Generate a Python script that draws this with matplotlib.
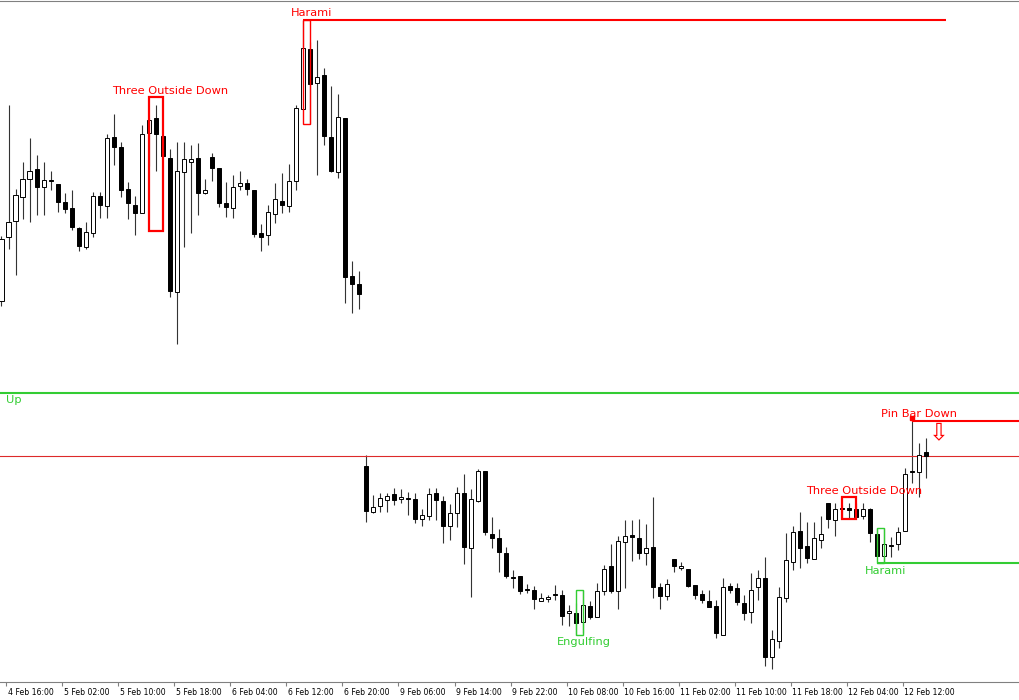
import numpy as np
import matplotlib.pyplot as plt
from matplotlib.patches import Rectangle
from matplotlib.transforms import ScaledTranslation

opens = [301, 237, 221, 197, 179, 169, 187, 180, 184, 202, 208, 228, 247, 233, 196, 206, 137, 147, 189, 205,
         213, 133, 118, 136, 158, 292, 172, 162, 158, 193, 157, 168, 203, 208, 186, 183, 190, 233, 235, 214,
         201, 206, 181, 109, 49, 83, 75, 137, 172, 118, 276, 284,
         466, 512, 506, 500, 494, 499, 498, 499, 519, 516, 493, 501, 526, 513, 493, 548, 501, 471,
         534, 538, 553, 577, 576, 589, 590, 601, 599, 594, 595, 613, 613, 622, 606, 617, 591, 566, 591, 542,
         535, 538, 553, 547, 587, 596, 559, 568, 569, 585, 594, 601, 606, 635, 586, 588, 603, 612, 587, 578,
         657, 641, 598, 562, 531, 546, 559, 540, 503, 520, 508, 508, 509, 516, 509, 534, 556, 545, 544, 531,
         471, 472, 452]
highs = [236, 105, 189, 162, 138, 155, 162, 171, 184, 193, 190, 227, 222, 192, 192, 134, 114, 142, 182, 196,
         125, 118, 105, 135, 149, 142, 142, 145, 143, 179, 153, 168, 182, 175, 171, 179, 190, 224, 205, 183,
         173, 164, 105, 20, 42, 40, 68, 86, 94, 118, 261, 271,
         455, 495, 493, 493, 488, 489, 492, 493, 509, 488, 488, 496, 504, 487, 474, 489, 469, 471,
         517, 529, 547, 570, 576, 584, 586, 593, 595, 585, 590, 605, 603, 590, 601, 583, 565, 544, 536, 520,
         520, 519, 524, 497, 583, 579, 559, 562, 569, 585, 590, 590, 600, 578, 583, 583, 595, 573, 570, 557,
         630, 587, 533, 526, 512, 522, 522, 516, 503, 503, 505, 503, 503, 503, 508, 528, 528, 537, 527, 468,
         417, 443, 438]
lows = [306, 249, 275, 219, 222, 215, 215, 190, 212, 213, 230, 251, 249, 237, 218, 218, 165, 197, 219, 235,
        213, 166, 171, 157, 297, 344, 247, 233, 215, 194, 181, 207, 217, 218, 190, 195, 237, 251, 245, 223,
        213, 212, 190, 110, 124, 175, 145, 172, 178, 303, 313, 309,
        522, 513, 512, 512, 505, 503, 515, 523, 526, 520, 520, 543, 540, 527, 564, 597, 502, 535,
        548, 572, 578, 588, 594, 593, 609, 601, 602, 600, 625, 626, 635, 633, 619, 617, 595, 593, 609, 588,
        561, 559, 565, 598, 609, 600, 572, 570, 587, 599, 603, 607, 638, 635, 593, 605, 620, 623, 600, 666,
        669, 648, 602, 570, 568, 563, 559, 548, 528, 536, 518, 518, 517, 519, 542, 556, 563, 557, 550, 531,
        483, 497, 478]
closes = [239, 222, 195, 179, 171, 187, 180, 181, 202, 209, 227, 246, 232, 196, 205, 138, 147, 190, 203, 213,
          134, 120, 134, 156, 291, 171, 159, 159, 193, 190, 168, 203, 207, 187, 183, 189, 234, 237, 212, 199,
          205, 181, 108, 48, 84, 77, 136, 171, 117, 277, 284, 294,
          511, 507, 498, 496, 500, 497, 499, 519, 515, 494, 500, 526, 513, 493, 547, 499, 471, 532,
          538, 552, 576, 578, 591, 590, 599, 598, 597, 595, 616, 611, 623, 605, 617, 591, 569, 591, 541, 536,
          537, 553, 548, 587, 596, 584, 566, 566, 586, 595, 600, 607, 633, 587, 590, 602, 613, 590, 578, 657,
          639, 597, 560, 532, 548, 558, 538, 534, 519, 509, 509, 510, 517, 509, 533, 556, 544, 546, 532, 474,
          472, 455, 456]

tick_labels = ['4 Feb 16:00', '5 Feb 02:00', '5 Feb 10:00', '5 Feb 18:00', '6 Feb 04:00', '6 Feb 12:00',
               '6 Feb 20:00', '9 Feb 06:00', '9 Feb 14:00', '9 Feb 22:00', '10 Feb 08:00', '10 Feb 16:00',
               '11 Feb 02:00', '11 Feb 10:00', '11 Feb 18:00', '12 Feb 04:00', '12 Feb 12:00']

# Patrones detectados: nombre, primera y última vela, tope y fondo del recuadro
pat_names = ['Three Outside Down', 'Harami', 'Engulfing', 'Three Outside Down', 'Harami']
pat_start = [21, 43, 82, 120, 125]
pat_end = [23, 44, 83, 122, 126]
pat_top = [97, 20, 590, 497, 528]
pat_bottom = [231, 124, 635, 519, 563]
pat_colors = ['red', 'red', 'limegreen', 'red', 'limegreen']

# Niveles horizontales
harami_top_level = 20
up_level = 393
mid_level = 456
pinbar_level = 420.5
harami_low_level = 563
pinbar_bar = 130

SCREEN = 700
o = SCREEN - np.array(opens)
h = SCREEN - np.array(highs)
l = SCREEN - np.array(lows)
c = SCREEN - np.array(closes)
idx = np.arange(len(o))

fig = plt.figure(figsize=(10.2, 7), dpi=100)
ax = fig.add_axes([0, 18.5 / 700, 1, 681 / 700])
ax.set_xlim(-0.214, 145.35)
ax.set_ylim(SCREEN - 681.5, SCREEN - 0.5)

# velas
ax.vlines(idx, l, h, color='#333333', lw=0.8, zorder=2)
body_bottom = np.minimum(o, c)
body_h = np.maximum(np.abs(c - o), 0.8)
colors = np.where(c >= o, 'white', 'black')
ax.bar(idx, body_h, bottom=body_bottom, width=0.58, color=colors, edgecolor='black', lw=0.7, zorder=3)

# recuadros de patrones
for i in range(len(pat_names)):
    lw = 1.6 if pat_names[i] == 'Three Outside Down' else 1.0
    ax.add_patch(Rectangle((pat_start[i], SCREEN - pat_bottom[i]), pat_end[i] - pat_start[i],
                           pat_bottom[i] - pat_top[i], fill=False, ec=pat_colors[i], lw=lw, zorder=4))

# líneas
ax.hlines(SCREEN - harami_top_level, 43, 134.8, color='red', lw=1.5, zorder=4)
ax.axhline(SCREEN - up_level, color='#33cc33', lw=1.5)
ax.axhline(SCREEN - mid_level, color='#dd2a2a', lw=0.8)
ax.hlines(SCREEN - pinbar_level, pinbar_bar, 146, color='red', lw=1.5, zorder=4)
ax.hlines(SCREEN - harami_low_level, 125, 146, color='#33cc33', lw=1.5, zorder=4)
ax.plot(pinbar_bar, h[pinbar_bar] - 1, 's', color='red', ms=2.5, zorder=5)

# textos
fs = 8.2
ax.text(24.1, SCREEN - 91, 'Three Outside Down', color='red', fontsize=fs, ha='center', va='center')
ax.text(44.2, SCREEN - 13, 'Harami', color='red', fontsize=fs, ha='center', va='center')
ax.text(83.1, SCREEN - 642, 'Engulfing', color='limegreen', fontsize=fs, ha='center', va='center')
ax.text(123.1, SCREEN - 491, 'Three Outside Down', color='red', fontsize=fs, ha='center', va='center')
ax.text(126.1, SCREEN - 571, 'Harami', color='limegreen', fontsize=fs, ha='center', va='center')
ax.text(131.0, SCREEN - 414, 'Pin Bar Down', color='red', fontsize=fs, ha='center', va='center')
ax.text(0.64, SCREEN - 400, 'Up', color='limegreen', fontsize=fs, ha='left', va='center')
ax.text(133.7, SCREEN - 432, '\u21e9', color='red', fontsize=17, ha='center', va='center')

# ejes
for s in ['left', 'right']:
    ax.spines[s].set_visible(False)
for s in ['top', 'bottom']:
    ax.spines[s].set_color('#808080')
ax.set_yticks([])
ax.set_xticks(np.arange(len(tick_labels)) * 8 + 0.65)
ax.set_xticklabels(tick_labels)
ax.tick_params(axis='x', direction='out', length=3, color='#808080', labelsize=5.6, pad=1.5)
for lab in ax.get_xticklabels():
    lab.set_ha('left')
    lab.set_transform(lab.get_transform() + ScaledTranslation(1.5 / 100, 0, fig.dpi_scale_trans))

fig.savefig('out.png', dpi=100)
